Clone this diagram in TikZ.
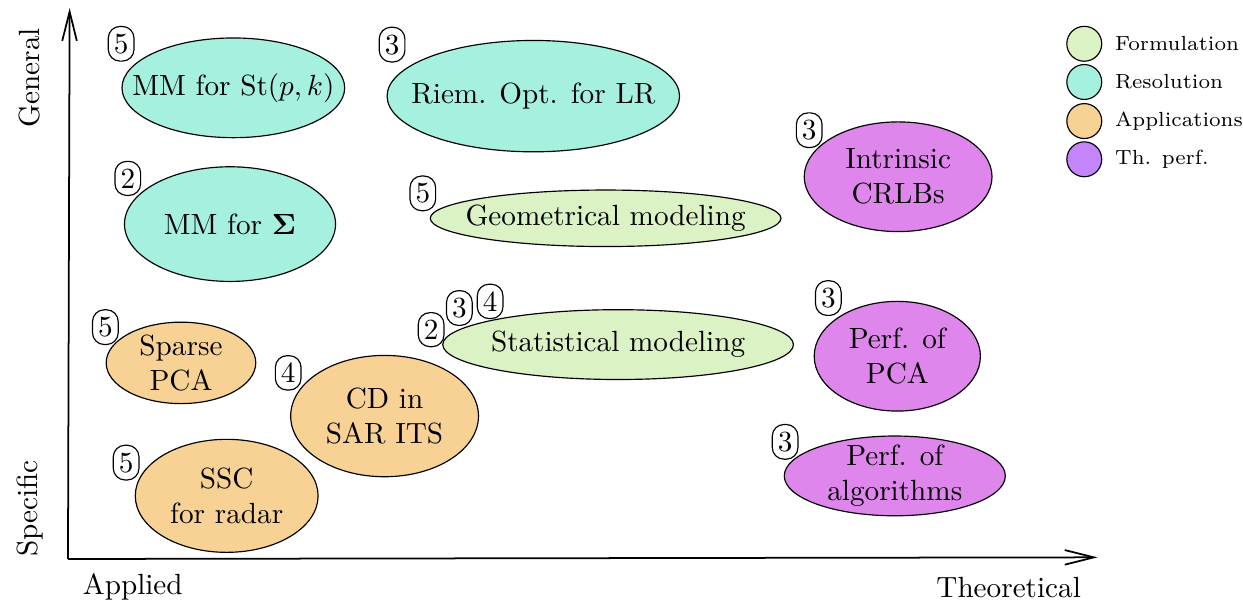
\documentclass[tikz,border=0pt]{standalone}
\usepackage{amsmath}
\usepackage{amssymb}
\usepackage{xcolor}
\usepackage{tikz}
\usetikzlibrary{positioning,arrows.meta}

\definecolor{formcol}{RGB}{218,242,196}
\definecolor{resolcol}{RGB}{166,240,224}
\definecolor{applicol}{RGB}{248,210,148}
\definecolor{perfcol}{RGB}{222,134,236}
\definecolor{perfleg}{RGB}{196,132,250}

\tikzset{
	axis/.style={line width=0.6pt, -{Straight Barb[length=10pt,width=5pt]}},
	formul/.style={draw, fill=formcol},
	resol/.style={draw, fill=resolcol},
	appli/.style={draw, fill=applicol},
	thperf/.style={draw, fill=perfcol},
	badge/.style={draw, fill=white, rounded corners=4pt, inner xsep=1.9pt, inner ysep=2.5pt},
	legdot/.style={draw, circle, minimum size=0.42cm, inner sep=0pt},
	legtext/.style={font=\scriptsize, anchor=west}
}

\begin{document}
\begin{tikzpicture}
	\useasboundingbox (-0.818,-0.529) rectangle (14.14,6.727);

	% axes
	\coordinate (o) at (0,0);
	\coordinate (xend) at (12.39,0.02);
	\coordinate (yend) at (0.02,6.63);
	\draw[axis] (o) -- (xend);
	\draw[axis] (o) -- (yend);
	\node[rotate=90] (gen) at (-0.46,5.79) {General};
	\node[rotate=90] (spec) at (-0.46,0.61) {Specific};
	\node (appl) at (0.78,-0.34) {Applied};
	\node (theo) at (11.32,-0.34) {Theoretical};

	% topics
	\draw[resol] (1.99,5.67) ellipse (1.34 and 0.60) node (mmst) {MM for $\mathrm{St}(p,k)$};
	\draw[resol] (5.60,5.57) ellipse (1.76 and 0.67) node (riem) {Riem. Opt. for LR};
	\draw[resol] (1.95,4.03) ellipse (1.27 and 0.69) node (mmsig) {MM for $\boldsymbol{\Sigma}$};
	\draw[formul] (6.47,4.10) ellipse (2.11 and 0.34) node (geom) {Geometrical modeling};
	\draw[thperf] (9.99,4.60) ellipse (1.13 and 0.66) node[align=center] (crlb) {Intrinsic\\CRLBs};
	\draw[appli] (1.36,2.36) ellipse (0.90 and 0.49) node[align=center] (spca) {Sparse\\PCA};
	\draw[formul] (6.62,2.58) ellipse (2.11 and 0.42) node (stat) {Statistical modeling};
	\draw[thperf] (9.98,2.44) ellipse (1.00 and 0.66) node[align=center] (ppca) {Perf. of\\PCA};
	\draw[appli] (3.81,1.72) ellipse (1.13 and 0.73) node[align=center] (cdsar) {CD in\\SAR ITS};
	\draw[appli] (1.91,0.76) ellipse (1.10 and 0.68) node[align=center] (ssc) {SSC\\for radar};
	\draw[thperf] (9.95,1.00) ellipse (1.33 and 0.48) node[align=center] (palg) {Perf. of\\algorithms};

	% chapter badges
	\node[badge] (b-mmst) at (0.64,6.20) {5};
	\node[badge] (b-riem) at (3.90,6.19) {3};
	\node[badge] (b-mmsig) at (0.72,4.58) {2};
	\node[badge] (b-geom) at (4.27,4.40) {5};
	\node[badge] (b-crlb) at (8.92,5.16) {3};
	\node[badge] (b-spca) at (0.45,2.79) {5};
	\node[badge] (b-stat2) at (4.37,2.76) {2};
	\node[badge] (b-stat3) at (4.71,3.02) {3};
	\node[badge] (b-stat4) at (5.08,3.10) {4};
	\node[badge] (b-ppca) at (9.15,3.14) {3};
	\node[badge] (b-cdsar) at (2.65,2.24) {4};
	\node[badge] (b-ssc) at (0.70,1.16) {5};
	\node[badge] (b-palg) at (8.63,1.41) {3};

	% legend
	\node[legdot, fill=formcol] (lf) at (12.23,6.20) {};
	\node[legdot, fill=resolcol] (lr) at (12.23,5.74) {};
	\node[legdot, fill=applicol] (la) at (12.23,5.27) {};
	\node[legdot, fill=perfleg] (lp) at (12.23,4.81) {};
	\node[legtext, right=0.03cm of lf] (tf) {Formulation};
	\node[legtext, right=0.03cm of lr] (tr) {Resolution};
	\node[legtext, right=0.03cm of la] (ta) {Applications};
	\node[legtext, right=0.03cm of lp] (tp) {Th. perf.};
\end{tikzpicture}
\end{document}
